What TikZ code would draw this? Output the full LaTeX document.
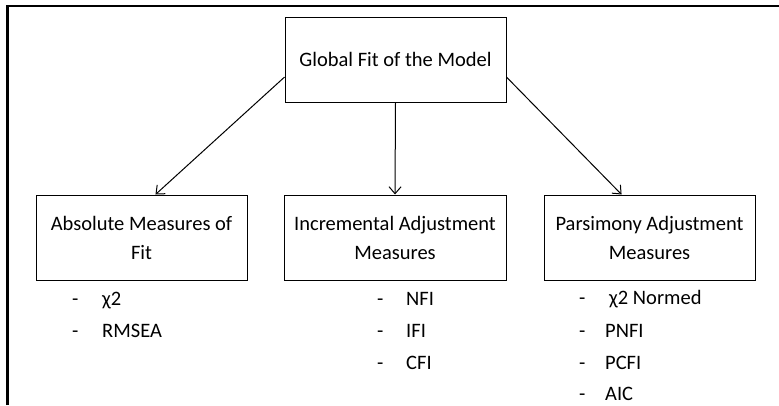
\documentclass[tikz,border=0pt]{standalone}
\usepackage{fontspec}
\setmainfont{Carlito}
\usetikzlibrary{arrows.meta}

\tikzset{
	measbox/.style={draw, line width=1pt, minimum width=211pt, minimum height=85pt, inner sep=0pt, align=center, font=\fontsize{20.5}{29}\selectfont},
	conn/.style={-{Straight Barb[length=7pt,width=12pt]}, line width=1pt},
	item/.style={anchor=base west, inner sep=0pt, font=\fontsize{20.5}{24}\selectfont}
}

\begin{document}
\begin{tikzpicture}[x=1pt,y=-1pt]
	\useasboundingbox (0,0) rectangle (779,405);
	\draw [line width=2.2pt] (7.5,405) -- (7.5,6) -- (779,6);

	\node [measbox, minimum width=221pt] (glob) at (395.5,59.5) {Global Fit of the Model};
	\node [measbox] (absm) at (141.5,237.5) {Absolute Measures of\\Fit};
	\node [measbox, minimum width=222pt] (incm) at (395,237.5) {Incremental Adjustment\\Measures};
	\node [measbox] (parm) at (649.5,237.5) {Parsimony Adjustment\\Measures};

	\draw [conn] (glob.189) -- (absm.72);
	\draw [conn] (glob.south) -- (incm.north);
	\draw [conn] (glob.-9) -- (parm.123);

	% absolute
	\node [item] (ad1) at (72,305) {-};
	\node [item] (at1) at (102,305) {χ2};
	\node [item] (ad2) at (72,337) {-};
	\node [item] (at2) at (102,337) {RMSEA};

	% incremental
	\node [item] (id1) at (377,305) {-};
	\node [item] (it1) at (406,305) {NFI};
	\node [item] (id2) at (377,337) {-};
	\node [item] (it2) at (406,337) {IFI};
	\node [item] (id3) at (377,369) {-};
	\node [item] (it3) at (406,369) {CFI};

	% parsimony
	\node [item] (pd1) at (579,304) {-};
	\node [item] (pt1) at (609,304) {χ2 Normed};
	\node [item] (pd2) at (579,337) {-};
	\node [item] (pt2) at (605,337) {PNFI};
	\node [item] (pd3) at (579,369) {-};
	\node [item] (pt3) at (605,369) {PCFI};
	\node [item] (pd4) at (579,400) {-};
	\node [item] (pt4) at (605,400) {AIC};
\end{tikzpicture}
\end{document}
